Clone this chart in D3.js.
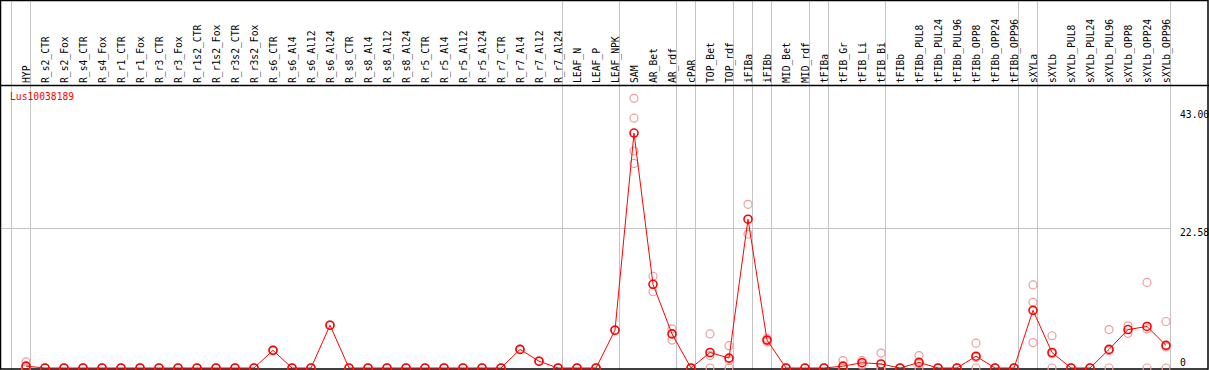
<!DOCTYPE html>
<html><head><meta charset="utf-8">
<script src="https://cdn.jsdelivr.net/npm/d3@7"></script>
<style>html,body{margin:0;padding:0;background:#fff;}svg{display:block;}</style>
</head><body>
<script>
const samples = ["HYP","R_s2_CTR","R_s2_Fox","R_s4_CTR","R_s4_Fox","R_r1_CTR","R_r1_Fox","R_r3_CTR","R_r3_Fox","R_r1s2_CTR","R_r1s2_Fox","R_r3s2_CTR","R_r3s2_Fox","R_s6_CTR","R_s6_Al4","R_s6_Al12","R_s6_Al24","R_s8_CTR","R_s8_Al4","R_s8_Al12","R_s8_Al24","R_r5_CTR","R_r5_Al4","R_r5_Al12","R_r5_Al24","R_r7_CTR","R_r7_Al4","R_r7_Al12","R_r7_Al24","LEAF_N","LEAF_P","LEAF_NPK","SAM","AR_Bet","AR_rdf","cPAR","TOP_Bet","TOP_rdf","iFIBa","iFIBb","MID_Bet","MID_rdf","tFIBa","tFIB_Gr","tFIB_Li","tFIB_Bi","tFIBb","tFIBb_PUL8","tFIBb_PUL24","tFIBb_PUL96","tFIBb_OPP8","tFIBb_OPP24","tFIBb_OPP96","sXYLa","sXYLb","sXYLb_PUL8","sXYLb_PUL24","sXYLb_PUL96","sXYLb_OPP8","sXYLb_OPP24","sXYLb_OPP96"];
// first sample of each group (group separators)
const groupStarts = ["HYP","R_s2_CTR","LEAF_N","SAM","cPAR","TOP_Bet","iFIBa","iFIBb","MID_Bet","tFIBa","tFIB_Gr","tFIBb","sXYLa","sXYLb"];
const means = [0.3,0,0,0,0,0,0,0,0,0,0,0,0,2.85,0,0,6.9,0,0,0,0,0,0,0,0,0,3.0,1.1,0,0,0,6.1,37.9,13.5,5.5,0,2.5,1.6,24.0,4.5,0,0,0,0.3,0.85,0.65,0,0.9,0,0,1.9,0,0,9.3,2.5,0,0,3.0,6.2,6.7,3.65];
const rep1 = [1.0,0,0,0,0,0,0,0,0,0,0,0,0,2.85,0,0,6.9,0,0,0,0,0,0,0,0,0,3.0,1.1,0,0,0,6.1,43.5,14.8,6.3,0,5.5,3.6,26.4,4.8,0,0,0,1.2,1.2,2.4,0,2.0,0,0,4.0,0,0,13.4,5.2,0,0,6.2,6.8,13.8,7.5];
const rep2 = [0,0,0,0,0,0,0,0,0,0,0,0,0,2.85,0,0,6.9,0,0,0,0,0,0,0,0,0,3.0,1.1,0,0,0,6.1,40.3,12.3,4.5,0,0,0,21.6,4.2,0,0,0,0,0.5,0,0,0,0,0,0,0,0,10.6,0,0,0,0,5.6,0,0];
const rep3 = [0,null,null,null,null,null,null,null,null,null,null,null,null,null,null,null,null,null,null,null,null,null,null,null,null,null,null,null,null,null,null,null,35.0,null,null,null,2.0,1.2,null,null,null,null,null,0,null,0,null,0.7,null,null,1.7,null,null,4.1,2.3,null,null,2.8,null,6.3,3.4];
const rep4 = [null,null,null,null,null,null,null,null,null,null,null,null,null,null,null,null,null,null,null,null,null,null,null,null,null,null,null,null,null,null,null,null,33.0,null,null,null,null,null,null,null,null,null,null,null,null,null,null,null,null,null,null,null,null,null,null,null,null,null,null,null,null];
const yTicks = [0, 22.58, 43.00];
const geneName = "Lus10038189";

const W = 1209, H = 370;
const FONT = "'DejaVu Sans Mono', monospace";
const svg = d3.select("body").append("svg").attr("width", W).attr("height", H);

const x = d3.scaleBand().domain(samples).range([11, 11 + 19 * samples.length]).paddingInner(0).paddingOuter(0);
const px = s => x(s) + 15;
const y = d3.scaleLinear().domain([0, 43]).range([368, 101.4]);
const plotRight = x.range()[1];

// vertical group separators (full height)
svg.append("g").selectAll("line").data(groupStarts.map(s => x(s)).concat([plotRight]))
  .join("line").attr("x1", d => d + 0.5).attr("x2", d => d + 0.5)
  .attr("y1", 0).attr("y2", H).attr("stroke", "#c4c4c4").attr("stroke-width", 1);

// horizontal gridline at middle tick
svg.append("g").selectAll("line").data(yTicks.filter(v => v > 0 && v < 43))
  .join("line").attr("x1", 1).attr("x2", plotRight)
  .attr("y1", d => Math.round(y(d)) + 0.5).attr("y2", d => Math.round(y(d)) + 0.5)
  .attr("stroke", "#c4c4c4").attr("stroke-width", 1);

// frame
svg.append("rect").attr("x", 0.5).attr("y", 0.5).attr("width", W - 1.5).attr("height", H - 1.5)
  .attr("fill", "none").attr("stroke", "#000").attr("stroke-width", 1.5);
svg.append("line").attr("x1", 0).attr("x2", W).attr("y1", 85.5).attr("y2", 85.5)
  .attr("stroke", "#000").attr("stroke-width", 1.5);

// column labels
svg.append("g").selectAll("text").data(samples).join("text")
  .attr("transform", d => `translate(${px(d) + 3.5},83) rotate(-90)`)
  .attr("font-family", FONT).attr("font-size", 9.7).attr("fill", "#000")
  .text(d => d);

// y tick labels
svg.append("g").selectAll("text").data(yTicks).join("text")
  .attr("x", 1180).attr("y", d => Math.min(Math.max(y(d) + 7.5, 118), 366))
  .attr("font-family", FONT).attr("font-size", 9.7).attr("fill", "#000")
  .text(d => d === 0 ? "0" : d.toFixed(2));

// gene name
svg.append("text").attr("x", 10).attr("y", 100).attr("font-family", FONT)
  .attr("font-size", 9.7).attr("fill", "#ff0000").text(geneName);

// replicate points
const reps = [rep1, rep2, rep3, rep4];
const repPts = [];
reps.forEach(r => r.forEach((v, i) => { if (v !== null) repPts.push({ s: samples[i], v }); }));
svg.append("g").selectAll("circle").data(repPts).join("circle")
  .attr("cx", d => px(d.s)).attr("cy", d => y(d.v)).attr("r", 4)
  .attr("fill", "none").attr("stroke", "#f09c9c").attr("stroke-width", 1.2);

// mean line
const meanPts = samples.map((s, i) => ({ s, v: means[i] }));
svg.append("path").datum(meanPts)
  .attr("d", d3.line().x(d => px(d.s)).y(d => y(d.v)))
  .attr("fill", "none").attr("stroke", "#ff0000").attr("stroke-width", 1);

svg.append("g").selectAll("circle").data(meanPts).join("circle")
  .attr("cx", d => px(d.s)).attr("cy", d => y(d.v)).attr("r", 4)
  .attr("fill", "none").attr("stroke", "#ff0000").attr("stroke-width", 1.6);
</script>
</body></html>
